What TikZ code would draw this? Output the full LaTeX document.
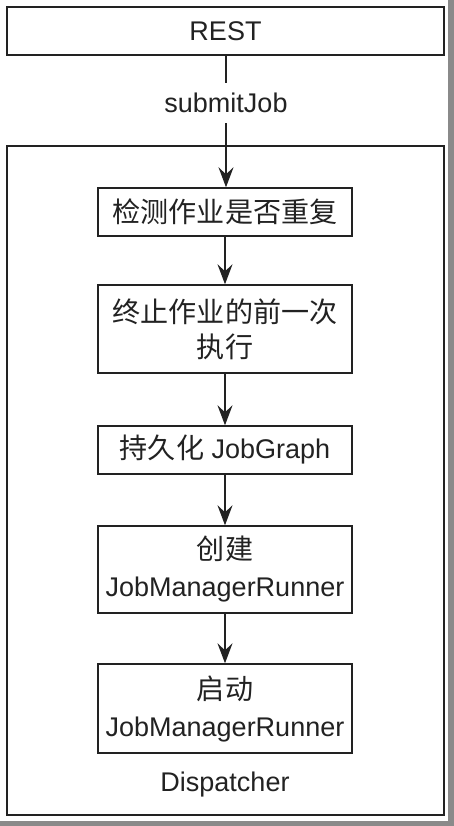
\documentclass[tikz,border=0pt]{standalone}
\usepackage{fontspec}
\setmainfont{Liberation Sans}
\newfontfamily\cjk{Noto Sans CJK SC}[Scale=1.04]
\usetikzlibrary{arrows.meta}
\definecolor{ink}{HTML}{222222}
\definecolor{edgegrey}{HTML}{8A8A8A}
\begin{document}
\begin{tikzpicture}[x=1pt,y=-1pt,
  font=\fontsize{27}{37}\selectfont,
  box/.style={draw=ink,line width=1.4pt,minimum width=254pt,inner sep=0pt,align=center,text=ink},
  conn/.style={draw=ink,line width=1.3pt},
  arr/.style={conn,-{Stealth[length=20pt,width=15pt,inset=7pt]}},
  lbl/.style={text=ink,inner sep=0pt}]
\useasboundingbox (0,0) rectangle (454,826);
\fill[white] (0,0) rectangle (454,826);
\fill[edgegrey] (448,0) rectangle (454,826);
\fill[edgegrey] (0,821) rectangle (454,826);
\node[box,minimum width=437pt,minimum height=48pt] (rest) at (225.5,31) {REST};
\node[draw=ink,line width=1.4pt,minimum width=437pt,minimum height=669pt,inner sep=0pt] (disp) at (225.5,480.5) {};
\node[lbl,minimum height=40pt] (submit) at (226,103) {submitJob};
\node[box,minimum height=48pt] (b1) at (225,212) {\cjk 检测作业是否重复};
\node[box,minimum height=88pt] (b2) at (225,329) {\cjk 终止作业的前一次\\[-2pt]\cjk 执行};
\node[box,minimum height=48pt] (b3) at (225,450) {{\cjk 持久化} JobGraph};
\node[box,minimum height=87pt] (b4) at (225,569.5) {\cjk 创建\\JobManagerRunner};
\node[box,minimum height=89pt] (b5) at (225,708.5) {\cjk 启动\\JobManagerRunner};
\node[lbl] (dlabel) at (225,785) {Dispatcher};
\draw[conn] (rest.south -| submit) -- (submit.north);
\draw[arr] (submit.south) -- (b1.north -| submit);
\draw[arr] (b1) -- (b2);
\draw[arr] (b2) -- (b3);
\draw[arr] (b3) -- (b4);
\draw[arr] (b4) -- (b5);
\end{tikzpicture}
\end{document}
